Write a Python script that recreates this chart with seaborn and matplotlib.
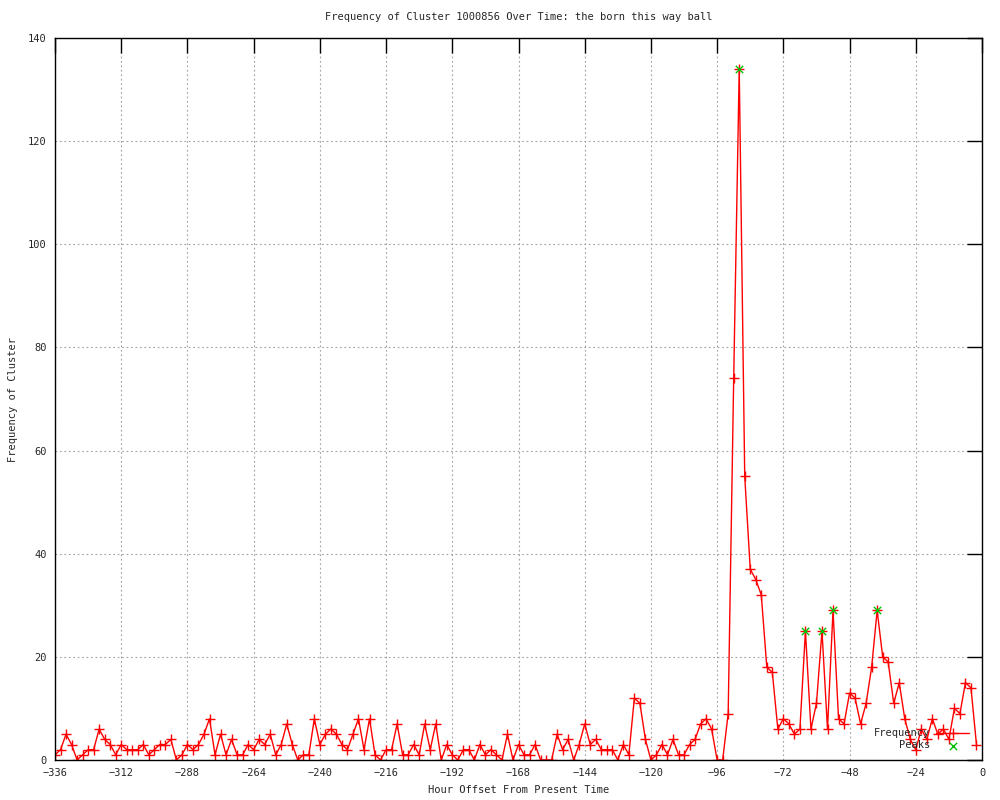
import matplotlib
matplotlib.use("Agg")
import matplotlib.pyplot as plt
import numpy as np
import seaborn as sns

# Hour offsets (every 2 h from -336 to -2) and the cluster frequency at each.
hours = np.arange(-336, 0, 2)
freq = [
    1, 2, 5, 3, 0, 1, 2, 2, 6, 4, 3, 1, 3, 2, 2, 2, 3, 1, 2, 3,
    3, 4, 0, 1, 3, 2, 3, 5, 8, 1, 5, 1, 4, 1, 1, 3, 2, 4, 3, 5,
    1, 3, 7, 3, 0, 1, 1, 8, 3, 5, 6, 5, 3, 2, 5, 8, 2, 8, 1, 0,
    2, 2, 7, 1, 1, 3, 1, 7, 2, 7, 0, 3, 1, 0, 2, 2, 0, 3, 1, 2,
    1, 0, 5, 0, 3, 1, 1, 3, 0, 0, 0, 5, 2, 4, 0, 3, 7, 3, 4, 2,
    2, 2, 0, 3, 1, 12, 11, 4, 0, 1, 3, 1, 4, 1, 1, 3, 4, 7, 8, 6,
    0, 0, 9, 74, 134, 55, 37, 35, 32, 18, 17, 6, 8, 7, 5, 6, 25, 6, 11, 25,
    6, 29, 8, 7, 13, 12, 7, 11, 18, 29, 20, 19, 11, 15, 8, 4, 2, 6, 4, 8,
    5, 6, 4, 10, 9, 15, 14, 3,
]

# Detected peaks.
peak_hours = [-88, -64, -58, -54, -38]
peak_freq = [134, 25, 25, 29, 29]

xticks = list(range(-336, 1, 24))
yticks = list(range(0, 141, 20))

sns.set_style("white")
plt.rcParams["font.family"] = ["DejaVu Sans Mono"]

fig = plt.figure(figsize=(10, 8), dpi=100)
ax = fig.add_axes([0.055, 0.05, 0.927, 0.9025])

sns.lineplot(
    x=hours, y=freq, ax=ax, color="#ff0000", linewidth=1.0,
    marker="+", markersize=6.5, markeredgewidth=1.0, markeredgecolor="#ff0000",
    label="Frequency",
)
sns.scatterplot(
    x=peak_hours, y=peak_freq, ax=ax, color="#00c000", marker="x",
    s=28, linewidth=1.0, label="Peaks", zorder=3,
)

ax.set_xlim(-336, 0)
ax.set_ylim(0, 140)
ax.set_xticks(xticks)
ax.set_yticks(yticks)
ax.tick_params(direction="in", length=11, width=1, top=True, right=True,
               labelsize=7.5, color="black", pad=6)
ax.grid(True, color="#a0a0a0", linestyle=(0, (1.5, 2.5)), linewidth=0.8)
for s in ax.spines.values():
    s.set_color("black")
    s.set_linewidth(1)

ax.set_title("Frequency of Cluster 1000856 Over Time: the born this way ball",
             fontsize=7.5, pad=13)
ax.set_xlabel("Hour Offset From Present Time", fontsize=7.5, labelpad=5)
ax.set_ylabel("Frequency of Cluster", fontsize=7.5, labelpad=7)

ax.legend(loc="lower right", bbox_to_anchor=(0.992, 0.006), frameon=False,
          markerfirst=False, fontsize=7.5, handlelength=3.2, borderpad=0,
          labelspacing=0.2, handletextpad=0.6)

fig.savefig("out.png", dpi=100)
